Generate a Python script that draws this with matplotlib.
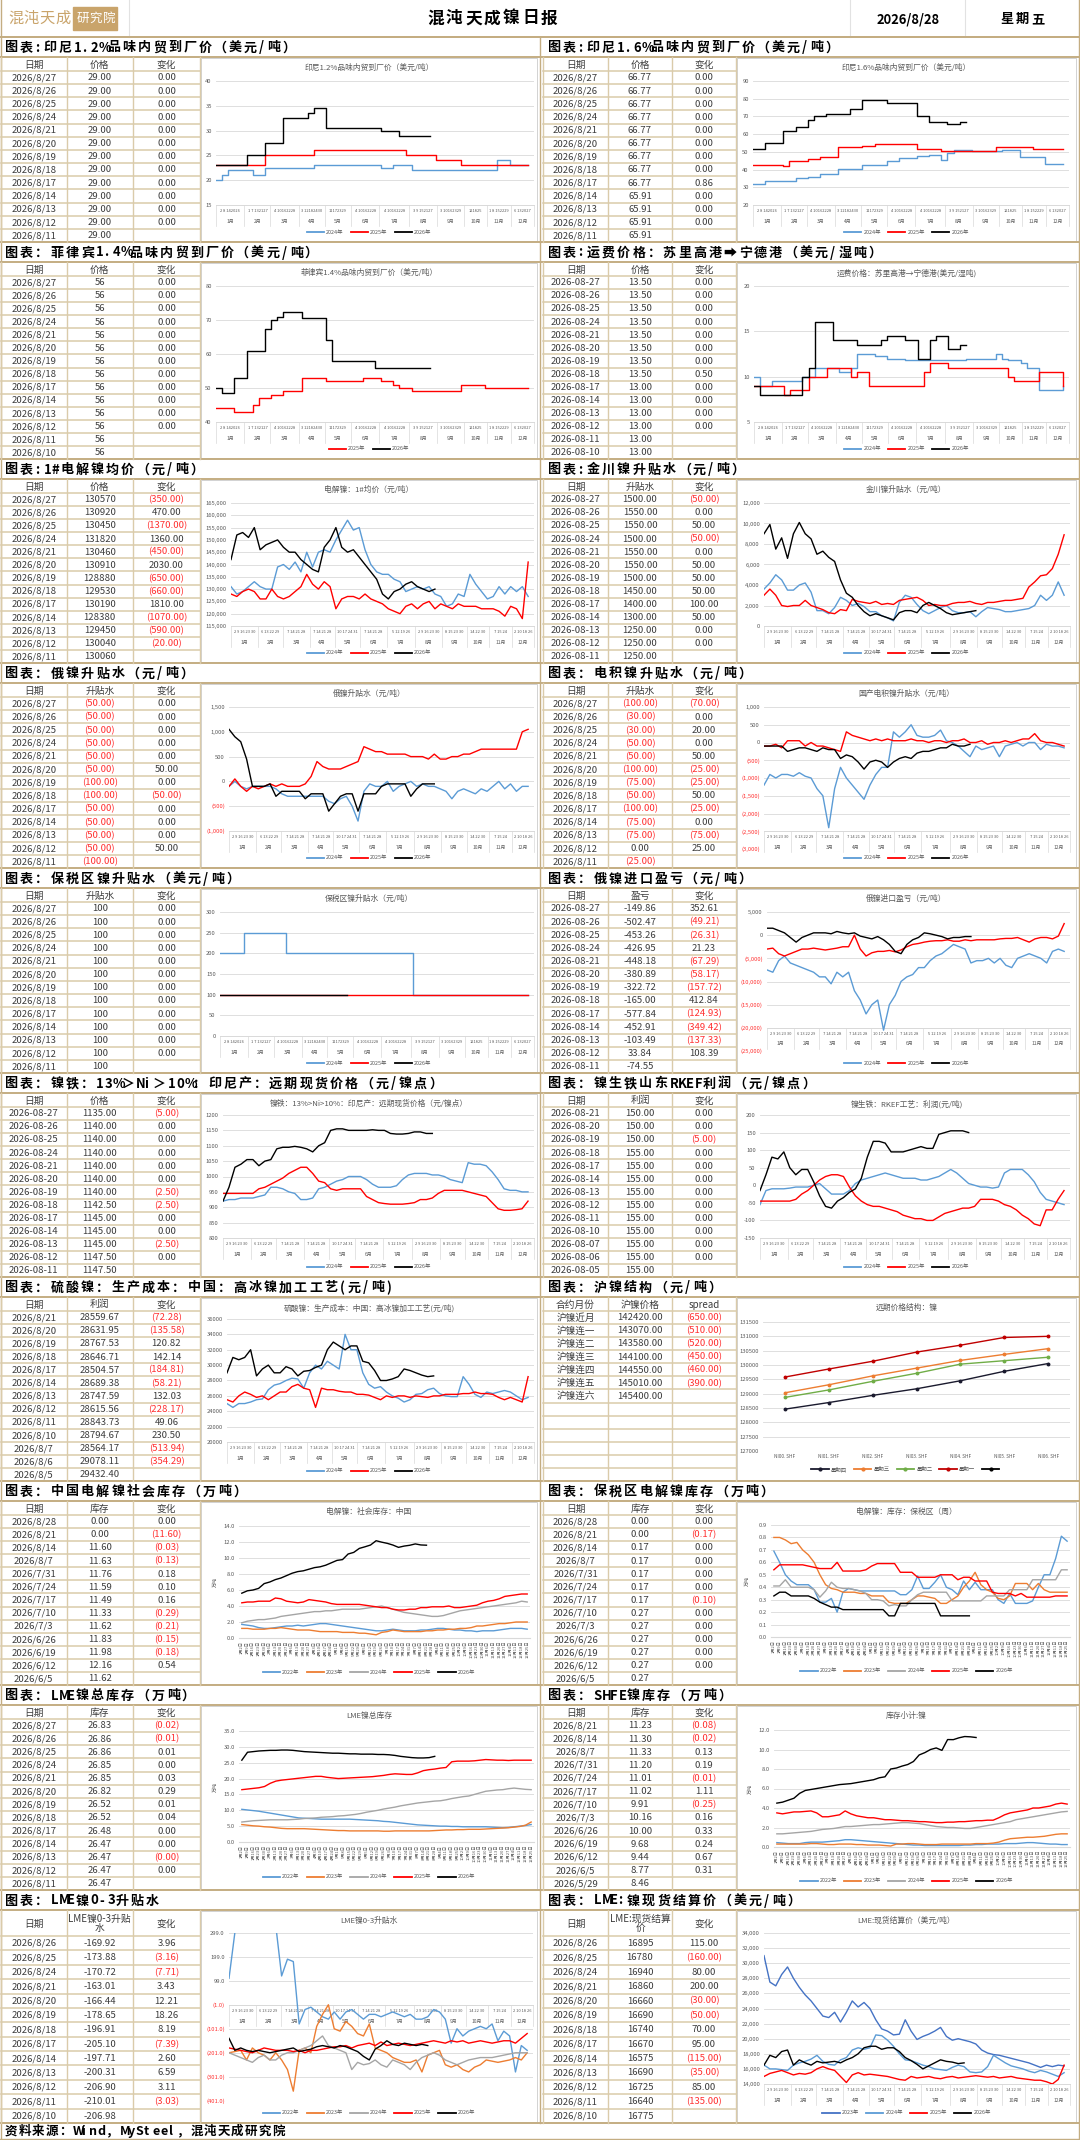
import numpy as np
import pandas as pd
import matplotlib
matplotlib.use("Agg")
import matplotlib.pyplot as plt
from matplotlib.lines import Line2D
from matplotlib.patches import Rectangle

plt.rcParams['font.family'] = ['Noto Sans CJK SC', 'DejaVu Sans']
plt.rcParams['axes.unicode_minus'] = False

# ---------------- table data ----------------
D_SLASH = ['2026/8/27', '2026/8/26', '2026/8/25', '2026/8/24', '2026/8/21', '2026/8/20', '2026/8/19',
           '2026/8/18', '2026/8/17', '2026/8/14', '2026/8/13', '2026/8/12', '2026/8/11']
D_SLASH14 = D_SLASH + ['2026/8/10']
D_DASH = ['2026-08-27', '2026-08-26', '2026-08-25', '2026-08-24', '2026-08-21', '2026-08-20', '2026-08-19',
          '2026-08-18', '2026-08-17', '2026-08-14', '2026-08-13', '2026-08-12', '2026-08-11']
D_DASH14 = D_DASH + ['2026-08-10']
D_RKEF = ['2026-08-21', '2026-08-20', '2026-08-19', '2026-08-18', '2026-08-17', '2026-08-14', '2026-08-13',
          '2026-08-12', '2026-08-11', '2026-08-10', '2026-08-07', '2026-08-06', '2026-08-05']
D_NISO4 = ['2026/8/21', '2026/8/20', '2026/8/19', '2026/8/18', '2026/8/17', '2026/8/14', '2026/8/13',
           '2026/8/12', '2026/8/11', '2026/8/10', '2026/8/7', '2026/8/6', '2026/8/5']
D_WEEK = ['2026/8/28', '2026/8/21', '2026/8/14', '2026/8/7', '2026/7/31', '2026/7/24', '2026/7/17',
          '2026/7/10', '2026/7/3', '2026/6/26', '2026/6/19', '2026/6/12', '2026/6/5']
D_SHFE = ['2026/8/21', '2026/8/14', '2026/8/7', '2026/7/31', '2026/7/24', '2026/7/17', '2026/7/10',
          '2026/7/3', '2026/6/26', '2026/6/19', '2026/6/12', '2026/6/5', '2026/5/29']
D_LME = ['2026/8/26', '2026/8/25', '2026/8/24', '2026/8/21', '2026/8/20', '2026/8/19', '2026/8/18',
         '2026/8/17', '2026/8/14', '2026/8/13', '2026/8/12', '2026/8/11', '2026/8/10']

IDN12_PRICE = [29.0, 29.0, 29.0, 29.0, 29.0, 29.0, 29.0, 29.0, 29.0, 29.0, 29.0, 29.0, 29.0]
IDN12_CHG = [0, 0, 0, 0, 0, 0, 0, 0, 0, 0, 0, 0, None]
IDN16_PRICE = [66.77, 66.77, 66.77, 66.77, 66.77, 66.77, 66.77, 66.77, 66.77, 65.91, 65.91, 65.91, 65.91]
IDN16_CHG = [0, 0, 0, 0, 0, 0, 0, 0, 0.86, 0, 0, 0, None]
PHL_PRICE = [56, 56, 56, 56, 56, 56, 56, 56, 56, 56, 56, 56, 56, 56]
PHL_CHG = [0, 0, 0, 0, 0, 0, 0, 0, 0, 0, 0, 0, None, None]
FRT_PRICE = [13.5, 13.5, 13.5, 13.5, 13.5, 13.5, 13.5, 13.5, 13.0, 13.0, 13.0, 13.0, 13.0, 13.0]
FRT_CHG = [0, 0, 0, 0, 0, 0, 0, 0.5, 0, 0, 0, 0, None, None]
NI1_PRICE = [130570, 130920, 130450, 131820, 130460, 130910, 128880, 129530, 130190, 128380, 129450, 130040, 130060]
NI1_CHG = [-350, 470, -1370, 1360, -450, 2030, -650, -660, 1810, -1070, -590, -20, None]
JC_PREM = [1500, 1550, 1550, 1500, 1550, 1550, 1500, 1450, 1400, 1300, 1250, 1250, 1250]
JC_CHG = [-50, 0, 50, -50, 0, 50, 50, 50, 100, 50, 0, 0, None]
RU_PREM = [-50, -50, -50, -50, -50, -50, -100, -100, -50, -50, -50, -50, -100]
RU_CHG = [0, 0, 0, 0, 0, 50, 0, -50, 0, 0, 0, 50, None]
EW_PREM = [-100, -30, -30, -50, -50, -100, -75, -50, -100, -75, -75, 0, -25]
EW_CHG = [-70, 0, 20, 0, 50, -25, -25, 50, -25, 0, -75, 25, None]
BD_PREM = [100, 100, 100, 100, 100, 100, 100, 100, 100, 100, 100, 100, 100]
BD_CHG = [0, 0, 0, 0, 0, 0, 0, 0, 0, 0, 0, 0, None]
RU_PNL = [-149.86, -502.47, -453.26, -426.95, -448.18, -380.89, -322.72, -165.00, -577.84, -452.91, -103.49, 33.84, -74.55]
RU_PNL_CHG = [352.61, -49.21, -26.31, 21.23, -67.29, -58.17, -157.72, 412.84, -124.93, -349.42, -137.33, 108.39, None]
NPI_PRICE = [1135, 1140, 1140, 1140, 1140, 1140, 1140, 1142.5, 1145, 1145, 1145, 1147.5, 1147.5]
NPI_CHG = [-5, 0, 0, 0, 0, 0, -2.5, -2.5, 0, 0, -2.5, 0, None]
RKEF_PROFIT = [150, 150, 150, 155, 155, 155, 155, 155, 155, 155, 155, 155, 155]
RKEF_CHG = [0, 0, -5, 0, 0, 0, 0, 0, 0, 0, 0, 0, None]
NISO4_COST = [28559.67, 28631.95, 28767.53, 28646.71, 28504.57, 28689.38, 28747.59, 28615.56, 28843.73,
              28794.67, 28564.17, 29078.11, 29432.40]
NISO4_CHG = [-72.28, -135.58, 120.82, 142.14, -184.81, -58.21, 132.03, -228.17, 49.06, 230.50, -513.94, -354.29, None]
SHNI_NAMES = ['沪镍近月', '沪镍连一', '沪镍连二', '沪镍连三', '沪镍连四', '沪镍连五', '沪镍连六']
SHNI_PRICE = [142420, 143070, 143580, 144100, 144550, 145010, 145400]
SHNI_SPREAD = [-650, -510, -520, -450, -460, -390, None]
CN_STOCK = [0, 0, 11.60, 11.63, 11.76, 11.59, 11.49, 11.33, 11.62, 11.83, 11.98, 12.16, 11.62]
CN_CHG = [0, -11.60, -0.03, -0.13, 0.18, 0.10, 0.16, -0.29, -0.21, -0.15, -0.18, 0.54, None]
BW_STOCK = [0, 0, 0.17, 0.17, 0.17, 0.17, 0.17, 0.27, 0.27, 0.27, 0.27, 0.27, 0.27]
BW_CHG = [0, -0.17, 0, 0, 0, 0, -0.10, 0, 0, 0, 0, 0, None]
LME_STOCK = [26.83, 26.86, 26.86, 26.85, 26.85, 26.82, 26.52, 26.52, 26.48, 26.47, 26.47, 26.47, 26.47]
LME_STOCK_CHG = [-0.02, -0.01, 0.01, 0, 0.03, 0.29, 0.01, 0.04, 0, 0, -0.001, 0, None]
SHFE_STOCK = [11.23, 11.30, 11.33, 11.20, 11.01, 11.02, 9.91, 10.16, 10.00, 9.68, 9.44, 8.77, 8.46]
SHFE_CHG = [-0.08, -0.02, 0.13, 0.19, -0.01, 1.11, -0.25, 0.16, 0.33, 0.24, 0.67, 0.31, None]
LME03 = [-169.92, -173.88, -170.72, -163.01, -166.44, -178.65, -196.91, -205.10, -197.71, -200.31, -206.90, -210.01, -206.98]
LME03_CHG = [3.96, -3.16, -7.71, 3.43, 12.21, 18.26, 8.19, -7.39, 2.60, 6.59, 3.11, -3.03, None]
LME_CASH = [16895, 16780, 16940, 16860, 16660, 16690, 16740, 16670, 16575, 16690, 16725, 16640, 16775]
LME_CASH_CHG = [115, -160, 80, 200, -30, -50, 70, 95, -115, -35, 85, -135, None]

# ---------------- chart data (weekly readings) ----------------
IDN12_24 = [20, 21, 22, 22, 22, 22, 21, 21, 22.5, 22.5, 22.5, 22.5, 22.5, 22.5, 22.5, 22.5, 23, 23, 23, 23, 23, 23,
            23, 23, 23, 23, 23, 22.5, 22.5, 23, 23, 23, 22, 22, 22, 22, 22, 22, 22, 22, 22, 22, 22, 22, 22, 22,
            24, 24, 23, 23, 23, 23]
IDN12_25 = [23, 23, 23, 23, 23, 23, 23, 23, 25, 25, 25, 25, 25, 25, 25, 25, 26, 26, 26, 26, 26, 26, 26, 26, 26, 26,
            26, 26, 26, 26, 26, 25, 25, 25, 25, 25, 24, 24, 24, 24, 23, 23, 23, 23, 23, 23, 23, 23, 23, 23, 23, 23]
IDN12_26 = [23, 23, 23, 23, 23, 25, 25, 25, 27.5, 27.5, 27.5, 32.5, 32.5, 32.5, 32.5, 33.5, 34.5, 34.5, 30.5, 30.5,
            30.5, 30.5, 30.5, 30.5, 30.5, 30.5, 30.5, 30, 30, 30, 29, 29, 29, 29, 29, 29]

IDN16_24 = [32, 32, 33.5, 33.5, 33.5, 33.5, 33.5, 35, 35, 36, 36, 37.5, 37.5, 37.5, 40.5, 40.5, 40.5, 40.5, 42.5,
            42.5, 42.5, 42.5, 45, 45, 46.5, 46.5, 46.5, 47.5, 47.5, 48.5, 48.5, 45.5, 49.5, 51, 51, 51, 50.5, 50.5,
            50.5, 50.5, 50.5, 51, 51, 51, 47, 47, 47, 47, 43, 43, 43, 43]
IDN16_25 = [42.5, 42.5, 42.5, 42.5, 42.5, 42, 45, 45, 45, 46, 46, 47, 47, 47, 52.5, 52.5, 52.5, 52.5, 53.5, 53.5,
            54.5, 54.5, 54.5, 54.5, 54.5, 54.5, 54.5, 51.5, 51.5, 51.5, 51.5, 50.5, 50.5, 50.5, 50.5, 50.5, 50.5,
            50.5, 50.5, 50.5, 52.5, 52.5, 52.5, 52.5, 52.5, 52.5, 51.5, 51.5, 51.5, 51.5, 51.5, 51.5]
IDN16_26 = [51.5, 51.5, 55, 55, 55, 61.5, 61.5, 64, 64, 68, 70, 70, 71.5, 71.5, 71.5, 71.5, 74, 74, 79.5, 79, 79,
            79, 77.5, 77.5, 77.5, 77.5, 77.5, 70.5, 70.5, 67, 67, 67, 66, 66, 67, 67]

PHL_25 = [44, 44, 44, 43, 43, 43, 45, 47, 47, 48, 48, 49, 49, 49, 53, 53, 53, 53, 52, 52, 52, 52, 52, 52, 53, 53,
          53, 52, 52, 51, 50, 50, 49, 49, 49, 49, 49, 49, 49, 49, 51, 51, 51, 51, 50, 50, 50, 50, 50, 50, 50, 50]
PHL_26 = [50, 48.5, 48.5, 53, 53, 61, 61, 61, 67.5, 70, 71, 72.3, 72.3, 72.3, 70.5, 70.5, 70.5, 70.5, 64, 58, 58,
          58, 58, 58, 58, 58, 56, 56, 56, 56, 56, 56, 56, 56, 56, 56]

FRT_24 = [10, 9, 9, 9.5, 9.5, 9.5, 9.5, 9.5, 10, 10, 11, 11, 11, 11, 10.5, 10.5, 11, 12.5, 12.5, 12.5, 12.3, 12.3,
          12, 12, 12, 11.8, 11.8, 11.8, 11.8, 11.8, 11.8, 11.8, 11.8, 11.8, 11.8, 12, 12, 12, 12, 12, 12.5, 12,
          11.8, 11.8, 11.5, 11, 11, 8.5, 8.5, 8.5, 8.5, 9]
FRT_25 = [9, 9, 9, 9, 9, 8, 8.5, 8.5, 8.5, 10, 10, 10, 11, 11, 11, 11, 10, 10.5, 10.5, 9, 9, 9, 9, 9, 9, 9, 9, 9,
          10.5, 11.5, 11.5, 11.5, 11, 11, 11, 11, 11, 11, 11, 11, 11, 11, 10, 9.5, 9.5, 9.5, 9.5, 10.5, 10.5,
          10.5, 10.5, 9]
FRT_26 = [9, 8, 8, 8, 8, 8, 8, 8, 10, 11, 16, 16, 16, 14, 14, 14, 14, 13.5, 13.5, 13.5, 13.5, 14, 14.5, 14.5,
          14.5, 14, 14, 12, 12, 14, 14.5, 14.5, 13, 13, 13.5, 13.5]

NI1_24_K = [131, 128, 129, 131, 133, 131, 130, 130, 139, 140, 138, 141, 137, 145, 139, 145, 146, 145, 150, 154,
            158, 154, 155, 146, 140, 137, 136, 136, 134, 133, 129, 130, 131, 130, 131, 128, 127, 123, 124, 128,
            127, 136, 132, 129, 126, 127, 131, 128, 131, 129, 131, 127]
NI1_25_K = [128, 127, 129, 130, 129, 126, 126, 130, 127, 126, 127, 129, 131, 136, 132, 130, 133, 131, 122, 126,
            127, 127, 126, 128, 126, 125, 124, 122, 121, 120, 123, 124, 122, 124, 125, 122, 124, 123, 122, 124,
            123, 123, 123, 122, 122, 122, 121, 119, 123, 122, 118, 141]
NI1_26_K = [142, 152, 153, 151, 155, 146, 148, 149, 150, 147, 145, 145, 142, 140, 138, 137, 147, 150, 155, 147,
            145, 146, 143, 140, 137, 134, 128, 126, 129, 130, 132, 133, 131, 130, 129, 130]

JC_24_K = [3.6, 4.2, 5.0, 4.5, 3.5, 3.5, 4.0, 4.2, 3.3, 1.5, 1.5, 1.2, 1.8, 2.8, 2.5, 2.0, 2.2, 1.9, 1.4, 1.4, 1.0,
           0.8, 0.5, 2.3, 3.0, 2.8, 2.1, 1.5, 1.2, 1.5, 1.8, 2.0, 1.5, 1.3, 1.3, 1.4, 0.9, 1.4, 1.8, 1.7, 1.6, 1.4,
           1.4, 1.5, 1.6, 1.7, 2.0, 3.0, 2.5, 3.0, 4.3, 3.0]
JC_25_K = [3.0, 3.6, 3.0, 2.0, 1.9, 2.0, 2.0, 2.5, 2.0, 1.8, 1.6, 1.3, 1.2, 1.6, 1.5, 2.6, 2.4, 2.3, 2.2, 2.4, 2.1,
           2.2, 2.1, 2.5, 2.6, 2.7, 2.8, 2.5, 2.0, 2.1, 2.0, 2.0, 2.2, 2.3, 2.3, 2.4, 2.2, 2.1, 2.3, 2.3, 2.4, 2.5,
           2.5, 2.6, 2.7, 3.8, 4.3, 4.9, 5.0, 5.6, 7.0, 8.9]
JC_26_K = [9.0, 9.9, 7.5, 8.6, 6.6, 9.0, 10.1, 9.0, 8.5, 7.0, 7.3, 6.7, 6.3, 4.5, 3.2, 2.8, 2.0, 1.4, 1.0, 1.2, 1.0,
           0.8, 0.6, 1.3, 1.5, 1.5, 1.3, 2.0, 2.3, 2.0, 1.7, 1.3, 1.1, 1.2, 1.3, 1.4, 1.5]

RU_24 = [-100, 0, -100, -150, -100, -100, -100, -100, -150, -250, -300, -300, -300, -300, -300, -300, -300, -400,
         -450, -350, -300, -500, -800, -200, -50, -100, -100, 0, -200, -100, -50, 0, -100, -50, -100, -100, -150,
         -200, -350, -200, -150, -200, -250, -150, -200, -100, 0, -150, -50, -200, -100, -100]
RU_25 = [-100, 50, -100, -200, -100, -150, -100, -50, -100, -50, -100, -100, -100, -50, 100, 400, 300, 250, 250,
         250, 300, 350, 400, 700, 650, 600, 600, 550, 550, 550, 550, 500, 500, 500, 450, 550, 450, 450, 500, 500,
         550, 550, 600, 650, 650, 650, 650, 650, 650, 650, 1000, 1050]
RU_26 = [1050, 900, 800, 450, -100, -100, -100, -50, -300, -200, -200, -200, -200, -350, -250, -250, -250, -600,
         -450, -300, -250, -250, -600, -250, -250, -250, -100, -50, -50, -50, -50, -300, -150, -50, -50, -50]

EW_24 = [-1200, -900, -1000, -900, -900, -950, -850, -950, -1000, -1300, -1500, -2400, -1300, -700, -1000, -1200,
         -1400, -1600, -1200, -900, -700, -700, 300, 150, 300, 500, 200, 150, 150, 200, 350, 50, 0, -100, -250,
         -400, -100, -200, -150, -100, -400, -100, -50, 0, -100, 0, 0, -200, -50, -100, -100, -150]
EW_25 = [-100, -100, -50, -150, 50, 50, 50, -100, 0, -100, -100, -150, -200, -250, 300, 200, 150, 100, 50, 100,
         50, 100, 50, 50, 50, 100, 50, 50, 0, 50, 50, 0, 50, 50, 100, 0, 0, 50, -50, 0, 0, 50, 0, 50, 100, 100,
         250, 50, 0, 0, -50, -100]
EW_26 = [-100, -100, -100, -100, -250, -200, -150, -150, -200, -250, -150, -200, -200, -450, -350, -400, -550,
         -750, -550, -500, -550, -700, -550, -450, -400, -450, -300, -250, -250, -200, -150, -150, -50, -100,
         -100, -50]

BD_24 = [200, 200, 200, 200, 250, 250, 250, 250, 250, 250, 250, 200, 200, 200, 200, 200, 200, 200, 200, 200, 200,
         200, 200, 200, 200, 200, 200, 200, 200, 200, 200, 200, 100, 100, 100, 100, 100, 100, 100, 100, 100, 100,
         100, 100, 100, 100, 100, 100, 100, 100, 100, 100]
BD_25 = [100, 100, 100, 100, 100, 100, 100, 100, 100, 100, 100, 100, 100, 100, 100, 100, 100, 100, 100, 100, 100,
         100, 100, 100, 100, 100, 100, 100, 100, 100, 100, 100, 100, 100, 100, 100, 100, 100, 100, 100, 100, 100,
         100, 100, 100, 100, 100, 100, 100, 100, 100, 100]
BD_26 = [100, 100, 100, 100, 100, 100, 100, 100, 100, 100, 100, 100, 100, 100, 100, 100, 100, 100, 100, 100, 100,
         100]

PNL_24_K = [-7.5, -8, -5.5, -4.5, -6, -6.5, -7, -7.5, -8, -9, -9, -10.5, -8, -9, -8, -12, -14, -17, -15, -14,
            -20.5, -15, -13, -10, -9, -8.5, -7, -7, -5.5, -4.5, -4, -3, -2, -2.5, -3, -6, -5.5, -5.5, -5, -6, -5,
            -6.5, -7, -5, -4.5, -4, -4.5, -5, -6, -3.5, -3, -3.5]
PNL_25_K = [-3, -2.8, -4, -4.5, -4, -3.5, -3, -3, -2.8, -3, -3.2, -3, -2.8, -2.5, -2.5, 0, -3, -4.5, -3.8, -3.5,
            -3.5, -3.3, -3.6, -3.2, -2.5, -2, -1.8, -1.5, -1.3, -1.2, -1.2, -1, -1.3, -1.3, -1, -1.2, -1, -1, -1,
            -1, -0.8, -0.7, -0.7, -0.5, -1, -1.5, -0.8, -0.5, -0.5, -0.8, -0.2, 2.5]
PNL_26_K = [1.5, 1.5, 1, 0.5, -0.5, -1.5, -0.5, 0, 0.5, 0.5, 0.5, 0.3, 0.8, 0.5, 0.3, 0.5, -0.2, -0.5, -0.8, -0.3,
            -1, -2, -3.5, -4, -2, -1, -0.5, 0.5, 0.3, 0, -0.3, -0.8, -0.5, -0.5, -0.3, -0.3]

NPI_24 = [920, 925, 925, 930, 930, 930, 935, 940, 965, 965, 960, 950, 945, 925, 925, 930, 960, 965, 975, 985, 990,
          1000, 1000, 1000, 990, 975, 965, 965, 965, 970, 990, 1005, 1010, 1010, 1010, 1005, 1005, 1000, 990, 985,
          980, 1045, 1040, 1040, 1035, 1015, 990, 960, 955, 955, 950, 950]
NPI_25 = [945, 945, 945, 945, 945, 945, 960, 965, 975, 985, 995, 1010, 1020, 1030, 1030, 1010, 985, 980, 960, 955,
          960, 960, 960, 960, 935, 925, 915, 912, 910, 910, 910, 912, 915, 925, 925, 930, 945, 955, 955, 955, 955,
          950, 945, 940, 935, 915, 895, 890, 890, 892, 895, 920]
NPI_26 = [920, 965, 1030, 1040, 1055, 1055, 1035, 1050, 1055, 1090, 1095, 1095, 1098, 1095, 1090, 1080, 1100,
          1110, 1150, 1155, 1155, 1150, 1150, 1150, 1150, 1152, 1150, 1150, 1140, 1138, 1138, 1140, 1145, 1145,
          1140, 1140]

RKEF_24 = [-55, -15, -10, -10, -10, -8, -5, -5, -5, 0, 5, -10, -25, -25, -25, -15, 5, 15, 20, 25, 30, 35, 30, 25,
           20, 20, 20, 15, 15, 20, 25, 35, 45, 35, 20, 5, 0, -5, -5, -8, -5, 35, 45, 45, 45, 30, 10, -20, -40, -45,
           -50, -55]
RKEF_25 = [-45, -45, -45, -45, -45, -45, -40, -25, -15, 0, 15, 25, 30, 30, 25, -5, -30, -45, -55, -60, -60, -65,
           -70, -75, -85, -90, -95, -95, -100, -100, -90, -80, -75, -70, -65, -65, -60, -40, -40, -40, -45, -55,
           -60, -70, -85, -95, -110, -115, -70, -70, -40, -15]
RKEF_26 = [-15, 30, 80, 75, 95, 50, 30, 45, 45, 10, -30, -60, -65, -45, -35, -20, -10, 20, 80, 125, 125, 120, 95,
           95, 95, 100, 105, 110, 105, 105, 145, 150, 155, 155, 155, 150]

NISO4_24_K = [25, 24.5, 25, 25, 25.2, 25.5, 25.6, 26.8, 27.4, 27.6, 28, 28.3, 28.2, 27, 29, 30, 29.5, 30.5, 30,
              29.5, 34, 32, 32, 29, 27.5, 27, 27.2, 26.5, 26, 25.7, 25.2, 25.5, 26.2, 26.3, 26.8, 27, 26.3, 26,
              25.9, 25.9, 28.5, 27.5, 26.2, 25.8, 26.5, 26.3, 26.5, 26.7, 26.5, 26, 25.5, 25.8]
NISO4_25_K = [25.5, 25.2, 26, 26.5, 26.2, 25.8, 26, 25.5, 26, 26.5, 26.5, 27.2, 27.5, 27, 26.8, 24.5, 27, 26.8,
              26.8, 26.6, 26.5, 26.5, 26.2, 26.2, 26.1, 25.8, 25.5, 26, 25.8, 26, 26, 25.8, 26, 25.9, 25.8, 26, 26,
              26.2, 26.2, 26.2, 26.3, 26.3, 26.5, 26.3, 26.3, 26.2, 25.8, 25.5, 25.8, 25.5, 25.2, 28.5]
NISO4_26_K = [29, 31, 30.7, 31, 32, 28.6, 29.5, 30, 29, 29, 29.8, 29.5, 28.6, 29.2, 29.3, 29.7, 30, 32, 33, 32.5,
              32, 32.5, 32.5, 30.5, 30.3, 29.3, 28, 28, 28.2, 28.5, 29.5, 29.3, 29, 28.7, 28.5, 28.6]

CURVE_LABELS = ['NI00. SHF', 'NI01. SHF', 'NI02. SHF', 'NI03. SHF', 'NI04. SHF', 'NI05. SHF', 'NI06. SHF']
CURVE_THU = [128460, 128690, 128940, 129170, 129450, 129780, 130050]
CURVE_WED = [129030, 129310, 129620, 129890, 130160, 130370, 130570]
CURVE_TUE = [128870, 129130, 129430, 129710, 130030, 130150, 130270]
CURVE_MON = [129580, 129860, 130130, 130450, 130690, 130960, 131000]

CN_22 = [1.7, 1.6, 1.5, 1.3, 1.2, 1.2, 1.3, 1.4, 1.5, 1.5, 1.6, 1.5, 1.6, 1.7, 1.8, 1.8, 1.7, 1.6, 1.5, 1.4, 1.3,
         1.2, 1.1, 1.0, 0.9, 0.9, 1.0, 1.1, 1.0, 0.9, 0.9, 0.9, 1.0, 1.0, 1.1, 1.2, 1.2, 1.1, 1.0, 1.0, 0.9, 0.9,
         0.8, 0.9, 0.9, 0.9, 1.0, 1.1, 1.2, 1.2, 1.2, 1.1]
CN_23 = [1.2, 1.2, 1.1, 1.1, 1.1, 1.2, 1.2, 1.3, 1.2, 1.1, 1.0, 1.0, 1.0, 0.9, 0.8, 0.8, 0.8, 0.8, 0.7, 0.7, 0.7,
         0.6, 0.6, 0.5, 0.4, 0.7, 0.8, 1.0, 0.9, 0.8, 0.8, 0.8, 0.8, 0.9, 0.9, 1.0, 1.0, 1.1, 1.1, 1.2, 1.2, 1.3,
         1.5, 1.5, 1.6, 1.7, 1.8, 1.8, 1.9, 2.0, 2.0, 2.0]
CN_24 = [1.9, 2.1, 2.2, 2.3, 2.3, 2.4, 2.5, 2.7, 2.8, 2.9, 3.0, 3.1, 3.2, 3.3, 3.3, 3.4, 3.4, 3.5, 3.6, 3.6, 3.6,
         3.6, 3.7, 3.8, 3.9, 4.0, 3.8, 3.6, 3.4, 3.2, 3.1, 3.0, 2.9, 2.8, 2.7, 2.7, 2.8, 3.0, 3.2, 3.4, 3.5, 3.6,
         3.7, 3.8, 3.9, 4.0, 4.1, 4.2, 4.3, 4.4, 4.6, 4.5]
CN_25 = [4.4, 4.5, 4.5, 4.6, 4.6, 4.6, 5.0, 4.9, 4.6, 4.5, 4.4, 4.5, 4.8, 4.7, 4.6, 4.5, 4.3, 4.2, 4.2, 4.2, 4.2,
         4.2, 4.1, 4.0, 3.9, 3.8, 3.8, 3.6, 3.5, 3.5, 3.6, 3.6, 3.8, 3.8, 3.9, 3.9, 3.9, 4.0, 3.8, 3.8, 3.9, 4.0,
         4.1, 4.4, 4.6, 4.7, 4.9, 5.2, 5.3, 5.4, 5.5, 5.5]
CN_26 = [5.6, 5.9, 6.0, 6.2, 6.8, 7.0, 7.3, 7.5, 7.8, 8.1, 8.3, 8.4, 8.6, 8.8, 8.9, 9.1, 9.4, 9.7, 9.8, 10.5, 10.7,
         11.2, 11.4, 11.62, 12.16, 11.98, 11.83, 11.62, 11.33, 11.49, 11.59, 11.76, 11.63, 11.60]

BW_22 = [0.69, 0.6, 0.5, 0.45, 0.42, 0.42, 0.42, 0.38, 0.28, 0.28, 0.31, 0.2, 0.36, 0.39, 0.38, 0.37, 0.37, 0.37,
         0.37, 0.37, 0.37, 0.37, 0.34, 0.34, 0.38, 0.49, 0.39, 0.39, 0.44, 0.5, 0.4, 0.38, 0.34, 0.45, 0.38, 0.44,
         0.38, 0.38, 0.38, 0.3, 0.27, 0.35, 0.27, 0.27, 0.27, 0.29, 0.4, 0.5, 0.5, 0.63, 0.81, 0.77]
BW_23 = [0.8, 0.8, 0.78, 0.75, 0.76, 0.7, 0.66, 0.6, 0.5, 0.42, 0.39, 0.38, 0.36, 0.36, 0.36, 0.35, 0.35, 0.33,
         0.33, 0.33, 0.28, 0.27, 0.27, 0.27, 0.3, 0.33, 0.33, 0.32, 0.31, 0.27, 0.27, 0.3, 0.33, 0.4, 0.45, 0.52,
         0.42, 0.38, 0.36, 0.31, 0.3, 0.33, 0.43, 0.43, 0.43, 0.38, 0.43, 0.38, 0.36, 0.36, 0.36, 0.36]
BW_24 = [0.41, 0.41, 0.46, 0.4, 0.4, 0.4, 0.4, 0.38, 0.32, 0.37, 0.44, 0.4, 0.39, 0.39, 0.38, 0.37, 0.35, 0.3, 0.3,
         0.29, 0.25, 0.26, 0.25, 0.25, 0.3, 0.34, 0.36, 0.36, 0.36, 0.36, 0.36, 0.29, 0.29, 0.29, 0.29, 0.29, 0.29,
         0.33, 0.33, 0.33, 0.33, 0.38, 0.38, 0.38, 0.38, 0.46, 0.46, 0.46, 0.46, 0.46, 0.54, 0.54]
BW_25 = [0.54, 0.58, 0.58, 0.58, 0.58, 0.58, 0.57, 0.56, 0.55, 0.55, 0.55, 0.6, 0.53, 0.53, 0.53, 0.53, 0.54, 0.57,
         0.59, 0.59, 0.59, 0.59, 0.52, 0.52, 0.52, 0.48, 0.48, 0.48, 0.48, 0.5, 0.5, 0.5, 0.46, 0.48, 0.48, 0.45,
         0.45, 0.45, 0.36, 0.35, 0.35, 0.35, 0.33, 0.35, 0.32, 0.32, 0.32, 0.32, 0.32, 0.33, 0.33, 0.33]
BW_26 = [0.33, 0.36, 0.36, 0.33, 0.33, 0.33, 0.33, 0.31, 0.28, 0.26, 0.24, 0.24, 0.22, 0.22, 0.22, 0.22, 0.22, 0.22,
         0.22, 0.22, 0.17, 0.17, 0.27, 0.27, 0.27, 0.27, 0.27, 0.27, 0.27, 0.17, 0.17, 0.17, 0.17, 0.17, 0.17]

LME_22 = [10.3, 10.1, 9.9, 9.7, 9.4, 9.1, 8.8, 8.5, 8.2, 7.9, 7.6, 7.5, 7.4, 7.3, 7.2, 7.2, 7.2, 7.2, 7.2, 7.2, 7.1,
          7.0, 6.9, 6.8, 6.7, 6.5, 6.4, 6.2, 6.0, 5.8, 5.6, 5.4, 5.3, 5.2, 5.1, 5.0, 5.0, 4.9, 4.9, 4.8, 4.8, 4.8,
          4.8, 4.8, 4.7, 4.6, 4.5, 4.6, 4.8, 5.0, 5.2, 5.5]
LME_23 = [5.5, 5.3, 5.1, 5.0, 4.8, 4.7, 4.5, 4.3, 4.2, 4.2, 4.2, 4.2, 4.1, 4.0, 3.9, 3.8, 3.7, 3.6, 3.6, 3.5, 3.5,
          3.5, 3.5, 3.5, 3.5, 3.4, 3.4, 3.5, 3.5, 3.5, 3.5, 3.5, 3.5, 3.5, 3.6, 3.7, 3.8, 3.8, 3.9, 3.9, 4.0, 4.0,
          4.0, 4.1, 4.2, 4.3, 4.4, 4.5, 4.7, 4.9, 5.3, 6.3]
LME_24 = [6.3, 6.5, 6.7, 6.8, 6.9, 7.0, 7.0, 7.0, 7.0, 7.1, 7.2, 7.4, 7.5, 7.6, 7.8, 7.9, 8.0, 8.2, 8.3, 8.5, 8.7,
          9.0, 9.4, 9.7, 10.0, 10.4, 10.7, 11.0, 11.4, 11.7, 12.0, 12.3, 12.5, 12.7, 12.9, 13.0, 13.3, 13.7, 14.0,
          14.3, 14.5, 15.0, 15.5, 16.0, 16.2, 16.4, 16.5, 16.8, 17.0, 16.8, 16.6, 16.5]
LME_25 = [16.5, 16.7, 16.9, 17.1, 17.5, 18.5, 19.2, 19.5, 19.7, 19.9, 20.1, 20.3, 20.5, 20.7, 20.7, 20.4, 20.2,
          20.0, 20.1, 20.2, 20.3, 20.4, 20.5, 20.6, 20.8, 21.0, 21.3, 21.5, 21.4, 21.3, 21.3, 21.8, 22.5, 22.8,
          23.0, 23.3, 23.5, 25.3, 25.5, 25.5, 25.5, 25.6, 25.8, 26.0, 25.9, 25.8, 25.8, 25.7, 25.8, 25.8, 25.8, 25.8]
LME_26 = [25.8, 28.3, 28.5, 28.7, 28.8, 28.9, 28.9, 29.0, 29.0, 28.9, 28.7, 28.5, 28.4, 28.3, 28.2, 28.1, 28.0,
          28.0, 27.9, 27.8, 27.8, 27.7, 27.7, 27.7, 27.6, 27.6, 27.5, 27.3, 27.0, 26.8, 26.6, 26.5, 26.5, 26.6, 27.0]

SHFE_22 = [0.45, 0.4, 0.35, 0.35, 0.35, 0.45, 0.5, 0.5, 0.5, 0.55, 0.6, 0.65, 0.75, 0.75, 0.7, 0.65, 0.6, 0.55,
           0.5, 0.45, 0.4, 0.35, 0.3, 0.25, 0.2, 0.2, 0.15, 0.15, 0.15, 0.15, 0.15, 0.15, 0.15, 0.2, 0.2, 0.25, 0.25,
           0.3, 0.3, 0.3, 0.35, 0.35, 0.35, 0.4, 0.45, 0.45, 0.4, 0.35, 0.3, 0.3, 0.25, 0.25]
SHFE_23 = [0.3, 0.3, 0.3, 0.3, 0.3, 0.3, 0.35, 0.35, 0.3, 0.25, 0.25, 0.3, 0.3, 0.3, 0.25, 0.25, 0.2, 0.2, 0.2,
           0.15, 0.1, 0.3, 0.3, 0.35, 0.35, 0.3, 0.25, 0.25, 0.25, 0.3, 0.3, 0.3, 0.3, 0.3, 0.3, 0.35, 0.35, 0.35,
           0.4, 0.5, 0.7, 0.85, 0.9, 0.95, 1.0, 1.0, 1.05, 1.1, 1.2, 1.3, 1.35, 1.35]
SHFE_24 = [1.35, 1.35, 1.4, 1.45, 1.5, 1.55, 1.6, 1.7, 1.8, 1.85, 1.9, 2.0, 2.1, 2.1, 2.15, 2.2, 2.25, 2.3, 2.3,
           2.35, 2.4, 2.45, 2.5, 2.5, 2.45, 2.4, 2.3, 2.2, 2.1, 2.05, 2.0, 2.0, 1.95, 1.9, 1.9, 2.0, 2.1, 2.2, 2.3,
           2.4, 2.5, 2.6, 2.8, 2.9, 3.0, 3.1, 3.2, 3.3, 3.4, 3.5, 3.6, 3.65]
SHFE_25 = [3.5, 3.4, 3.5, 3.6, 3.6, 3.65, 3.7, 3.5, 3.1, 3.1, 3.2, 3.3, 3.7, 3.4, 3.2, 3.1, 3.0, 3.0, 2.9, 2.8, 2.8,
           2.75, 2.7, 2.7, 2.65, 2.6, 2.6, 2.55, 2.5, 2.5, 2.55, 2.55, 2.6, 2.6, 2.65, 2.7, 2.7, 2.75, 2.75, 3.0,
           3.3, 3.5, 3.6, 3.7, 3.8, 4.0, 4.0, 4.1, 4.2, 4.4, 4.5, 4.4]
SHFE_26 = [4.5, 4.6, 4.8, 5.0, 5.5, 5.8, 5.9, 6.0, 6.1, 6.2, 6.3, 6.4, 6.45, 6.5, 6.6, 6.7, 6.8, 6.9, 7.1, 7.2, 8.0,
           8.1, 8.3, 8.46, 8.77, 9.44, 9.68, 10.0, 10.16, 9.91, 11.02, 11.01, 11.2, 11.33, 11.30, 11.23]

L03_22 = [110, 300, 350, 380, 360, 400, 420, 380, 330, 120, 190, 180, -80, -20, -10, -30, -50, -60, -30, -60, -30,
          -20, -40, -60, -40, -40, -50, -40, -30, -40, -50, -40, -60, -60, -50, -20, -30, -60, -160, -100, -130,
          -110, -100, -90, -100, -80, -150, -110, -130, -280, -170, -190]
L03_23 = [-200, -195, -190, -230, -180, -200, -210, -230, -200, -230, -270, -360, -190, -180, -200, -90, -40, 0,
          -100, -110, -70, -90, -120, -130, -80, -180, -190, -200, -220, -230, -240, -240, -230, -280, -210, -200,
          -190, -250, -260, -250, -270, -280, -260, -250, -230, -235, -240, -235, -230, -220, -230, -200]
L03_24 = [-200, -210, -220, -230, -240, -220, -210, -230, -230, -210, -200, -200, -190, -180, -170, -150, -130,
          -170, -180, -190, -200, -270, -240, -250, -245, -230, -250, -260, -230, -240, -250, -270, -240, -220,
          -210, -200, -210, -230, -240, -250, -240, -230, -225, -220, -220, -220, -215, -210, -205, -200, -200, -200]
L03_25 = [-180, -185, -190, -195, -200, -190, -180, -185, -190, -190, -190, -195, -190, -200, -190, -190, -185,
          -180, -175, -175, -170, -180, -170, -165, -160, -170, -155, -170, -165, -160, -165, -170, -165, -160,
          -155, -150, -155, -160, -150, -155, -150, -160, -155, -150, -155, -160, -155, -150, -150, -160, -140, -120]
L03_26 = [-140, -190, -180, -190, -195, -190, -195, -200, -195, -190, -185, -180, -195, -190, -185, -175, -170,
          -175, -180, -170, -175, -185, -195, -215, -230, -185, -170, -150, -165, -170, -160, -165, -170, -165, -170]

CASH_23_K = [31.0, 27.5, 27.0, 28.5, 29.5, 28.0, 26.8, 25.8, 25.0, 24.0, 23.0, 22.8, 23.5, 22.2, 23.5, 25.0, 24.2,
             24.8, 24.0, 22.5, 21.3, 21.0, 20.5, 20.6, 22.5, 21.0, 19.9, 20.3, 20.6, 21.0, 21.5, 20.3, 19.8, 20.0,
             19.8, 19.6, 19.3, 18.5, 18.1, 17.9, 17.8, 17.6, 17.4, 17.2, 17.0, 16.8, 16.5, 16.2, 16.5, 16.3, 16.5, 16.4]
CASH_24_K = [16.5, 16.0, 16.0, 15.9, 15.8, 16.5, 16.8, 17.0, 17.3, 17.8, 17.0, 16.6, 16.5, 17.2, 17.5, 18.5, 18.8,
             18.6, 18.8, 20.5, 20.4, 19.8, 19.0, 18.0, 17.2, 17.1, 16.8, 16.5, 16.3, 16.0, 15.9, 15.8, 16.2, 16.5,
             16.3, 15.6, 15.5, 15.6, 16.3, 17.8, 17.3, 16.8, 16.4, 16.2, 16.0, 15.7, 15.5, 15.8, 15.6, 15.3, 15.0, 15.5]
CASH_25_K = [15.0, 15.4, 15.6, 15.8, 15.5, 15.2, 15.4, 15.3, 15.5, 16.0, 16.3, 16.0, 15.8, 15.0, 14.2, 15.2, 15.5,
             15.2, 15.3, 15.2, 15.1, 15.0, 14.8, 14.6, 14.5, 15.0, 14.8, 14.9, 15.0, 14.8, 14.7, 14.9, 15.0, 14.8,
             14.9, 15.0, 15.1, 15.0, 14.9, 15.0, 14.8, 14.9, 15.0, 14.8, 14.7, 14.6, 14.5, 14.5, 14.3, 14.0, 14.6, 16.5]
CASH_26_K = [16.5, 17.8, 17.5, 18.3, 18.5, 16.5, 17.2, 16.8, 16.5, 17.0, 16.8, 16.9, 17.0, 16.8, 17.2, 17.5, 18.0,
             18.8, 19.0, 19.0, 18.6, 18.8, 18.8, 18.3, 17.5, 17.1, 16.6, 16.0, 16.4, 16.8, 17.2, 17.0, 16.9, 16.7, 16.8]

MONTHS = ['1月', '2月', '3月', '4月', '5月', '6月', '7月', '8月', '9月', '10月', '11月', '12月']
DAYS_A = ['2 8 142026', '1 7 132127', '4 10162228', '3 12182430', '11172329', '4 10162228', '4 10162228',
          '3 9 152127', '3 10162329', '121825', '1 8 152229', '6 132027']
DAYS_B = ['2 9 16 23 30', '6 13 22 29', '7 14 21 28', '7 14 21 28', '10 17 24 31', '7 14 21 28', '5 12 19 26',
          '2 9 16 23 30', '8 15 23 30', '14 22 30', '7 15 24', '2 10 18 26']
WEEK_LABELS = [f'{d.month}月{d.day}日' for d in pd.date_range('2026-01-02', periods=52, freq='7D')]

# ---------------- layout ----------------
W, H = 1080, 2140
SEC_TOP = [37, 242, 459, 663, 868, 1073, 1277, 1481, 1685, 1890]
SEC_BOT = [242, 459, 663, 868, 1073, 1277, 1481, 1685, 1890, 2123]
TABLE_X = {0: [1, 66.5, 133, 200], 1: [543, 608, 672, 736]}
BOX_X = {0: (200, 538), 1: (736, 1077)}
MONTH_EDGES = [0, 4.65, 8.9, 13.5, 17.8, 22.1, 26.7, 31.6, 36.2, 40.5, 44.3, 48.2, 52]

TAN = '#C4AD82'
ROWLINE = '#DACBAA'
TXT = '#3C3C3C'
NEG = '#FF3030'
GRAY = '#595959'
GL = '#D9D9D9'
C_BLUE = '#5B9BD5'
C_RED = '#FF0000'
C_BLACK = '#000000'
C_ORANGE = '#ED7D31'
C_GRAY = '#A5A5A5'
C_DBLUE = '#4472C4'

fig = plt.figure(figsize=(W / 100, H / 100), dpi=100)
bg = fig.add_axes([0, 0, 1, 1])
bg.set_xlim(0, W)
bg.set_ylim(H, 0)
bg.set_autoscale_on(False)
bg.axis('off')


def spaced(x, y, s, size, cjk, asc, color='black', weight='bold'):
    for ch in s:
        bg.text(x, y, ch, fontsize=size, fontweight=weight, color=color, ha='left', va='center')
        x += cjk if ord(ch) > 0x2000 else asc


def cell(v, kind):
    if v is None:
        return '', TXT
    if isinstance(v, str):
        return v, TXT
    if kind == 'acc':
        if v < 0:
            return '({:.2f})'.format(abs(v)), NEG
        return '{:.2f}'.format(v), TXT
    if kind == 'f0':
        return '{:.0f}'.format(v), TXT
    return '{:.2f}'.format(v), TXT


def draw_table(side, sec, heads, c1, c2, c3, fmt2, nrows=13, th=14):
    xs = TABLE_X[side]
    T, B = SEC_TOP[sec], SEC_BOT[sec]
    y0 = T + 20
    rh = (B - y0 - th) / nrows
    for x in xs:
        bg.plot([x, x], [y0, B], color=ROWLINE, lw=1.0)
    ys = [y0 + th + i * rh for i in range(nrows)]
    for y in ys:
        bg.plot([xs[0], xs[3]], [y, y], color=ROWLINE, lw=1.1)
    for j, h in enumerate(heads):
        bg.text((xs[j] + xs[j + 1]) / 2, y0 + th / 2 + 0.5, h, fontsize=7.0, color=TXT,
                ha='center', va='center', linespacing=1.0)
    for i in range(nrows):
        yc = ys[i] + rh / 2 + 0.3
        vals = [(c1[i] if i < len(c1) else None, 'str'),
                (c2[i] if i < len(c2) else None, fmt2),
                (c3[i] if i < len(c3) else None, 'acc')]
        for j, (v, k) in enumerate(vals):
            s, col = cell(v, k)
            if s:
                bg.text((xs[j] + xs[j + 1]) / 2, yc, s, fontsize=6.9, color=col, ha='center', va='center')


def chart_frame(side, sec, title):
    bx0, bx1 = BOX_X[side]
    T, B = SEC_TOP[sec], SEC_BOT[sec]
    bg.add_patch(Rectangle((bx0 + 1, T + 21), bx1 - bx0 - 2, B - T - 22, fill=False, ec='#D2D2D2', lw=0.7))
    bg.text((bx0 + bx1) / 2, T + 31, title, fontsize=5.6, color=GRAY, ha='center', va='center')


def tick_labels(vals, style):
    out = []
    for v in vals:
        if style == 'int':
            s = '{:.0f}'.format(v)
        elif style == 'k':
            s = '{:,.0f}'.format(v * 1000)
        elif style == 'kint':
            s = '{:.0f}'.format(v * 1000)
        elif style == 'acc':
            s = '({:,.0f})'.format(-v) if v < 0 else '{:,.0f}'.format(v)
        elif style == 'acck':
            s = '({:,.0f})'.format(-v * 1000) if v < 0 else '{:,.0f}'.format(v * 1000)
        elif style == 'f1':
            s = '{:.1f}'.format(v)
        else:
            s = '({:.1f})'.format(-v) if v < 0 else '{:.1f}'.format(v)
        out.append(s)
    return out


def legend(side, sec, series, off, marker=None):
    bx0, bx1 = BOX_X[side]
    B = SEC_BOT[sec]
    hs = [Line2D([], [], color=c, lw=1.3, marker=marker, ms=2) for _, c, _ in series]
    fig.legend(hs, [lab for _, _, lab in series], loc='center', ncol=len(hs),
               bbox_to_anchor=((bx0 + bx1) / 2 / W, 1 - (B - off) / H), fontsize=3.9, frameon=False,
               handlelength=3.2, columnspacing=1.3, handletextpad=0.4, labelcolor=GRAY)


def year_chart(side, sec, title, series, yt, ystyle, px, kind='daily', axis_at=None,
               top=44, bot=37, steps=False, days=DAYS_B, leg_off=10):
    T, B = SEC_TOP[sec], SEC_BOT[sec]
    chart_frame(side, sec, title)
    ptop, pbot = T + top, B - bot
    ax = fig.add_axes([px[0] / W, 1 - pbot / H, (px[1] - px[0]) / W, (pbot - ptop) / H])
    ax.patch.set_alpha(0)
    for sp in ax.spines.values():
        sp.set_visible(False)
    for vals, col, lab in series:
        ax.plot(np.arange(len(vals)), vals, color=col, lw=1.0,
                drawstyle='steps-post' if steps else 'default')
    ylab = tick_labels(yt, ystyle)
    ymin, ymax = yt[0], yt[-1]
    ax.set_ylim(ymin, ymax)
    ax.set_yticks(yt)
    ax.set_yticklabels(ylab)
    ax.tick_params(axis='y', length=0, labelsize=4.2, pad=3, labelcolor=GRAY)
    for t, lab in zip(ax.get_yticklabels(), ylab):
        if lab.startswith('('):
            t.set_color(NEG)
    ax.grid(axis='y', color=GL, lw=0.6)
    ax.set_axisbelow(True)
    if kind == 'daily':
        ax.set_xlim(0, 52)
        ax.set_xticks([])
        a = ymin if axis_at is None else axis_at
        ya = ptop + (ymax - a) / (ymax - ymin) * (pbot - ptop)
        bg.plot([px[0], px[1]], [ya, ya], color=GL, lw=0.7)
        for e in MONTH_EDGES:
            xe = px[0] + e / 52 * (px[1] - px[0])
            bg.plot([xe, xe], [ya, ya + 21], color=GL, lw=0.5)
        for i in range(12):
            xc = px[0] + (MONTH_EDGES[i] + MONTH_EDGES[i + 1]) / 2 / 52 * (px[1] - px[0])
            bg.text(xc, ya + 6, days[i], fontsize=2.9, color=GRAY, ha='center', va='center')
            bg.text(xc, ya + 16, MONTHS[i], fontsize=3.5, color=GRAY, ha='center', va='center')
    else:
        ax.set_xlim(-0.5, 51.5)
        ax.set_xticks(range(52))
        ax.set_xticklabels(WEEK_LABELS, rotation=90, fontsize=3.0, color=GRAY)
        ax.tick_params(axis='x', length=0, pad=2)
        ax.spines['bottom'].set_visible(True)
        ax.spines['bottom'].set_color(GL)
        bg.text(px[0] - 24, (ptop + pbot) / 2, '万吨', rotation=90, fontsize=3.6, color=GRAY,
                ha='center', va='center')
    legend(side, sec, series, leg_off)
    return ax


def curve_chart(side, sec, title, series, yt, px):
    T, B = SEC_TOP[sec], SEC_BOT[sec]
    chart_frame(side, sec, title)
    ptop, pbot = T + 45, B - 30
    ax = fig.add_axes([px[0] / W, 1 - pbot / H, (px[1] - px[0]) / W, (pbot - ptop) / H])
    ax.patch.set_alpha(0)
    for sp in ax.spines.values():
        sp.set_visible(False)
    for vals, col, lab in series:
        if vals is not None:
            ax.plot(range(len(vals)), vals, color=col, lw=1.0, marker='o', ms=1.8)
    ax.set_xlim(-0.5, 6.5)
    ax.set_ylim(yt[0], yt[-1])
    ax.set_yticks(yt)
    ax.set_yticklabels(tick_labels(yt, 'int'))
    ax.tick_params(axis='y', length=0, labelsize=4.2, pad=3, labelcolor=GRAY)
    ax.set_xticks(range(7))
    ax.set_xticklabels(CURVE_LABELS, fontsize=3.4, color=GRAY)
    ax.tick_params(axis='x', length=0, pad=2.5)
    ax.grid(axis='y', color=GL, lw=0.6)
    ax.set_axisbelow(True)
    legend(side, sec, series, 12, marker='o')


# ---------------- page frame ----------------
bg.plot([0, W], [37, 37], color=TAN, lw=1.4)
for x in (129, 850, 965):
    bg.plot([x, x], [0, 37], color='#E2E2E2', lw=0.8)
spaced(8, 18.5, '混沌天成', 11, 15.8, 8, color='#C9A46B', weight='normal')
bg.add_patch(Rectangle((73, 7), 44, 23, color='#C9A46B'))
spaced(76.5, 18.5, '研究院', 9, 13, 8, color='white', weight='normal')
spaced(427, 18.5, '混沌天成镍日报', 12, 19, 10)
bg.text(908, 19, '2026/8/28', fontsize=9.3, fontweight='bold', ha='center', va='center')
spaced(1001, 19, '星期五', 9.5, 15, 8)

LEFT_TITLES = ['图表:印尼1.2%品味内贸到厂价（美元/吨）', '图表：菲律宾1.4%品味内贸到厂价（美元/吨）',
               '图表:1#电解镍均价（元/吨）', '图表：俄镍升贴水（元/吨）', '图表：保税区镍升贴水（美元/吨）',
               '图表：镍铁：13%＞Ni＞10%：印尼产：远期现货价格（元/镍点）',
               '图表：硫酸镍：生产成本：中国：高冰镍加工工艺(元/吨)', '图表：中国电解镍社会库存（万吨）',
               '图表：LME镍总库存（万吨）', '图表：LME镍0-3升贴水']
RIGHT_TITLES = ['图表:印尼1.6%品味内贸到厂价（美元/吨）', '图表:运费价格：苏里高港➡宁德港（美元/湿吨）',
                '图表:金川镍升贴水（元/吨）', '图表：电积镍升贴水（元/吨）', '图表：俄镍进口盈亏（元/吨）',
                '图表：镍生铁山东RKEF利润（元/镍点）', '图表：沪镍结构（元/吨）', '图表：保税区电解镍库存（万吨）',
                '图表：SHFE镍库存（万吨）', '图表：LME:镍现货结算价（美元/吨）']

for k in range(10):
    T, B = SEC_TOP[k], SEC_BOT[k]
    bg.plot([0, W], [T + 20, T + 20], color=TAN, lw=1.4)
    bg.plot([0, W], [T, T], color=TAN, lw=1.4)
    bg.plot([540, 540], [T, B], color=TAN, lw=1.0)
    spaced(5, T + 10.5, LEFT_TITLES[k], 9.4, 15.2, 8.3)
    spaced(548, T + 10.5, RIGHT_TITLES[k], 9.4, 15.2, 8.3)
bg.plot([0, W], [2123, 2123], color=TAN, lw=1.4)
bg.plot([1, 1], [0, H], color=TAN, lw=1.0)
bg.plot([W - 1, W - 1], [0, H], color=TAN, lw=1.0)
bg.plot([0, W], [H - 1, H - 1], color=TAN, lw=1.0)
spaced(5, 2131.5, '资料来源：Wind，MySteel，混沌天成研究院', 9.0, 13.6, 8.2)

# ---------------- tables ----------------
HD = ['日期', '价格', '变化']
HS = ['日期', '升贴水', '变化']
HK = ['日期', '库存', '变化']
draw_table(0, 0, HD, D_SLASH, IDN12_PRICE, IDN12_CHG, 'f2')
draw_table(1, 0, HD, D_SLASH, IDN16_PRICE, IDN16_CHG, 'f2')
draw_table(0, 1, HD, D_SLASH14, PHL_PRICE, PHL_CHG, 'f0', nrows=14)
draw_table(1, 1, HD, D_DASH14, FRT_PRICE, FRT_CHG, 'f2', nrows=14)
draw_table(0, 2, HD, D_SLASH, NI1_PRICE, NI1_CHG, 'f0')
draw_table(1, 2, HS, D_DASH, JC_PREM, JC_CHG, 'f2')
draw_table(0, 3, HS, D_SLASH, RU_PREM, RU_CHG, 'acc')
draw_table(1, 3, HS, D_SLASH, EW_PREM, EW_CHG, 'acc')
draw_table(0, 4, HS, D_SLASH, BD_PREM, BD_CHG, 'f0')
draw_table(1, 4, ['日期', '盈亏', '变化'], D_DASH, RU_PNL, RU_PNL_CHG, 'f2')
draw_table(0, 5, HD, D_DASH, NPI_PRICE, NPI_CHG, 'f2')
draw_table(1, 5, ['日期', '利润', '变化'], D_RKEF, RKEF_PROFIT, RKEF_CHG, 'f2')
draw_table(0, 6, ['日期', '利润', '变化'], D_NISO4, NISO4_COST, NISO4_CHG, 'f2')
draw_table(1, 6, ['合约月份', '沪镍价格', 'spread'], SHNI_NAMES, SHNI_PRICE, SHNI_SPREAD, 'f2')
draw_table(0, 7, HK, D_WEEK, CN_STOCK, CN_CHG, 'f2')
draw_table(1, 7, HK, D_WEEK, BW_STOCK, BW_CHG, 'f2')
draw_table(0, 8, HK, D_SLASH, LME_STOCK, LME_STOCK_CHG, 'f2')
draw_table(1, 8, HK, D_SHFE, SHFE_STOCK, SHFE_CHG, 'f2')
draw_table(0, 9, ['日期', 'LME镍0-3升贴\n水', '变化'], D_LME, LME03, LME03_CHG, 'f2', th=26)
draw_table(1, 9, ['日期', 'LME:现货结算\n价', '变化'], D_LME, LME_CASH, LME_CASH_CHG, 'f0', th=26)


# ---------------- charts ----------------
def s3(a, b, c):
    return [(a, C_BLUE, '2024年'), (b, C_RED, '2025年'), (c, C_BLACK, '2026年')]


def s5(a, b, c, d, e):
    return [(a, C_BLUE, '2022年'), (b, C_ORANGE, '2023年'), (c, C_GRAY, '2024年'),
            (d, C_RED, '2025年'), (e, C_BLACK, '2026年')]


year_chart(0, 0, '印尼1.2%品味内贸到厂价（美元/吨）', s3(IDN12_24, IDN12_25, IDN12_26),
           [15, 20, 25, 30, 35, 40], 'int', (216, 534), steps=True, days=DAYS_A)
year_chart(1, 0, '印尼1.6%品味内贸到厂价（美元/吨）', s3(IDN16_24, IDN16_25, IDN16_26),
           [20, 30, 40, 50, 60, 70, 80, 90], 'int', (753, 1069), steps=True, days=DAYS_A)
year_chart(0, 1, '菲律宾1.4%品味内贸到厂价（美元/吨）', [(PHL_25, C_RED, '2025年'), (PHL_26, C_BLACK, '2026年')],
           [40, 50, 60, 70, 80], 'int', (216, 534), steps=True, days=DAYS_A)
year_chart(1, 1, '运费价格：苏里高港→宁德港(美元/湿吨)', s3(FRT_24, FRT_25, FRT_26),
           [5, 10, 15, 20], 'int', (754, 1069), steps=True, days=DAYS_A)
year_chart(0, 2, '电解镍：1#均价（元/吨）', s3(NI1_24_K, NI1_25_K, NI1_26_K),
           list(range(115, 166, 5)), 'k', (231, 534))
year_chart(1, 2, '金川镍升贴水（元/吨）', s3(JC_24_K, JC_25_K, JC_26_K),
           list(range(0, 13, 2)), 'k', (764, 1070))
year_chart(0, 3, '俄镍升贴水（元/吨）', s3(RU_24, RU_25, RU_26),
           list(range(-1000, 1501, 500)), 'acc', (229, 534))
year_chart(1, 3, '国产电积镍升贴水（元/吨）', s3(EW_24, EW_25, EW_26),
           list(range(-3000, 1001, 500)), 'acc', (764, 1070), axis_at=-2500, bot=19)
year_chart(0, 4, '保税区镍升贴水（元/吨）', s3(BD_24, BD_25, BD_26),
           list(range(0, 301, 50)), 'int', (220, 534), steps=True, days=DAYS_A)
year_chart(1, 4, '俄镍进口盈亏（元/吨）', s3(PNL_24_K, PNL_25_K, PNL_26_K),
           list(range(-25, 6, 5)), 'acck', (767, 1070), axis_at=-20, bot=22)
year_chart(0, 5, '镍铁：13%>Ni>10%：印尼产：远期现货价格（元/镍点）', s3(NPI_24, NPI_25, NPI_26),
           list(range(800, 1201, 50)), 'int', (223, 534), top=42, bot=39)
year_chart(1, 5, '镍生铁：RKEF工艺：利润(元/吨)', s3(RKEF_24, RKEF_25, RKEF_26),
           list(range(-150, 201, 50)), 'int', (760, 1070), top=42, bot=39)
year_chart(0, 6, '硫酸镍：生产成本：中国：高冰镍加工工艺(元/吨)', s3(NISO4_24_K, NISO4_25_K, NISO4_26_K),
           list(range(20, 37, 2)), 'kint', (227, 534), top=42, bot=39)
curve_chart(1, 6, '远期价格结构：镍',
            [(CURVE_THU, '#1A1A2E', '星期四'), (CURVE_WED, C_ORANGE, '星期三'), (CURVE_TUE, '#70AD47', '星期二'),
             (CURVE_MON, '#C00000', '星期一'), (None, C_BLACK, '')],
            list(range(127000, 131501, 500)), (763, 1070))
year_chart(0, 7, '电解镍：社会库存：中国', s5(CN_22, CN_23, CN_24, CN_25, CN_26),
           [0, 2, 4, 6, 8, 10, 12, 14], 'f1', (239, 530), kind='weekly', top=45, bot=47, leg_off=13)
year_chart(1, 7, '电解镍：库存：保税区（周）', s5(BW_22, BW_23, BW_24, BW_25, BW_26),
           [0, 0.1, 0.2, 0.3, 0.4, 0.5, 0.6, 0.7, 0.8, 0.9], 'f1', (771, 1070), kind='weekly',
           top=44, bot=48, leg_off=14)
year_chart(0, 8, 'LME镍总库存', s5(LME_22, LME_23, LME_24, LME_25, LME_26),
           [0, 5, 10, 15, 20, 25, 30, 35], 'f1', (239, 534), kind='weekly', top=46, bot=48, leg_off=13)
year_chart(1, 8, '库存小计:镍', s5(SHFE_22, SHFE_23, SHFE_24, SHFE_25, SHFE_26),
           [0, 2, 4, 6, 8, 10, 12], 'f1', (774, 1070), kind='weekly', top=45, bot=43, leg_off=9)
year_chart(0, 9, 'LME镍0-3升贴水', s5(L03_22, L03_23, L03_24, L03_25, L03_26),
           [-401, -301, -201, -101, -1, 99, 199, 299], 'accf1', (229, 533), axis_at=-1, top=43, bot=22)
year_chart(1, 9, 'LME:现货结算价（美元/吨）',
           [(CASH_23_K, C_DBLUE, '2023年'), (CASH_24_K, C_BLUE, '2024年'), (CASH_25_K, C_RED, '2025年'),
            (CASH_26_K, C_BLACK, '2026年')],
           list(range(14, 35, 2)), 'k', (764, 1070), top=43, bot=39)

fig.savefig('out.png', dpi=100)
